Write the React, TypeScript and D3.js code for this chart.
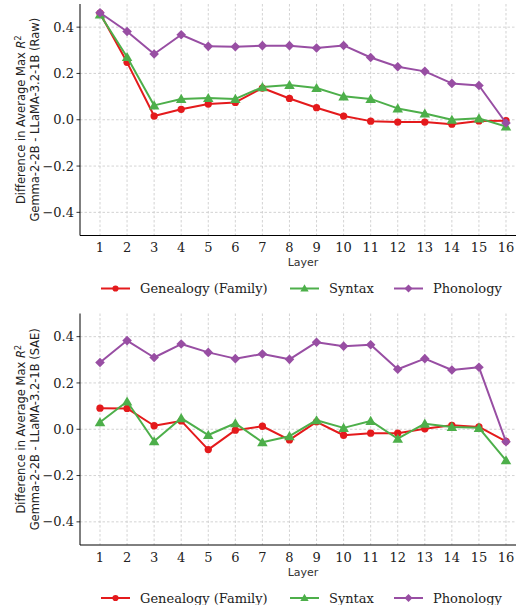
import React from "react";
import * as d3 from "d3";

const layers = [1, 2, 3, 4, 5, 6, 7, 8, 9, 10, 11, 12, 13, 14, 15, 16];
const yTicks = [0.4, 0.2, 0.0, -0.2, -0.4];

const rawGenealogy = [0.46, 0.248, 0.016, 0.045, 0.068, 0.075, 0.137, 0.092, 0.052, 0.016, -0.006, -0.01, -0.01, -0.019, -0.005, -0.004];
const rawSyntax = [0.455, 0.271, 0.062, 0.09, 0.094, 0.09, 0.141, 0.15, 0.137, 0.101, 0.09, 0.049, 0.027, 0.0, 0.006, -0.029];
const rawPhonology = [0.462, 0.381, 0.284, 0.367, 0.317, 0.315, 0.32, 0.32, 0.31, 0.321, 0.269, 0.229, 0.209, 0.157, 0.148, -0.014];

const saeGenealogy = [0.091, 0.09, 0.015, 0.036, -0.088, -0.004, 0.013, -0.046, 0.032, -0.026, -0.017, -0.017, 0.002, 0.017, 0.01, -0.052];
const saeSyntax = [0.03, 0.12, -0.052, 0.048, -0.025, 0.026, -0.056, -0.03, 0.039, 0.006, 0.036, -0.041, 0.024, 0.01, 0.006, -0.134];
const saePhonology = [0.288, 0.383, 0.31, 0.368, 0.332, 0.305, 0.325, 0.302, 0.376, 0.359, 0.365, 0.259, 0.305, 0.256, 0.268, -0.054];

const seriesNames = ["Genealogy (Family)", "Syntax", "Phonology"];
const seriesColors = ["#e41a1c", "#4daf4a", "#984ea3"];
const seriesSymbols = [d3.symbolCircle, d3.symbolTriangle, d3.symbolSquare];
const seriesRotate = [0, 0, 45];

const W = 516;
const H = 605;
const SERIF = "'DejaVu Serif', serif";
const SANS = "'DejaVu Sans', sans-serif";

const x = d3.scaleLinear().domain([0.261, 16.739]).range([80, 526]);

const fmt = (v: number) => (v < 0 ? "\u2212" : "") + Math.abs(v).toFixed(1);

function Panel({ top, bottom, data, tag }: { top: number; bottom: number; data: number[][]; tag: string }) {
  const y = d3.scaleLinear().domain([-0.5, 0.5]).range([bottom, top]);
  const cy = (top + bottom) / 2;
  const legendY = bottom + 53;
  const legendItems = [
    { x0: 101, tx: 140 },
    { x0: 290, tx: 329 },
    { x0: 394, tx: 433 },
  ];
  return (
    <g>
      {layers.map((l) => (
        <line key={"gx" + l} x1={x(l)} x2={x(l)} y1={top} y2={bottom} stroke="#c8c8c8" strokeWidth={0.8} strokeDasharray="2.5,2" />
      ))}
      {yTicks.map((t) => (
        <line key={"gy" + t} x1={80} x2={W} y1={y(t)} y2={y(t)} stroke="#c8c8c8" strokeWidth={0.8} strokeDasharray="2.5,2" />
      ))}
      <line x1={80} x2={80} y1={top} y2={bottom} stroke="#000" strokeWidth={1} />
      <line x1={80} x2={W} y1={bottom} y2={bottom} stroke="#000" strokeWidth={1} />
      {yTicks.map((t) => (
        <g key={"yt" + t}>
          <line x1={76.5} x2={80} y1={y(t)} y2={y(t)} stroke="#000" strokeWidth={0.8} />
          <text x={74} y={y(t) + 4.6} textAnchor="end" fontFamily={SERIF} fontSize={13} fill="#222">
            {fmt(t)}
          </text>
        </g>
      ))}
      {layers.map((l) => (
        <text key={"xt" + l} x={x(l)} y={bottom + 16.5} textAnchor="middle" fontFamily={SERIF} fontSize={13} fill="#222">
          {l}
        </text>
      ))}
      <text x={x(8.5)} y={bottom + 30.5} textAnchor="middle" fontFamily={SANS} fontSize={11} fill="#333">
        Layer
      </text>
      <text transform={`translate(25,${cy}) rotate(-90)`} textAnchor="middle" fontFamily={SANS} fontSize={11.5} fill="#222">
        Difference in Average Max <tspan fontStyle="italic">R</tspan>
        <tspan dy={-4} fontSize={8}>2</tspan>
      </text>
      <text transform={`translate(38.5,${cy}) rotate(-90)`} textAnchor="middle" fontFamily={SANS} fontSize={11.5} fill="#222">
        {`Gemma-2-2B - LLaMA-3.2-1B (${tag})`}
      </text>
      {data.map((vals, si) => {
        const pts: [number, number][] = layers.map((l, i) => [x(l), y(vals[i])]);
        const path = d3.line()(pts) || "";
        const sym = d3.symbol().type(seriesSymbols[si]).size(si === 2 ? 46 : si === 1 ? 48 : 42)() || "";
        return (
          <g key={"s" + si}>
            <path d={path} fill="none" stroke={seriesColors[si]} strokeWidth={2} strokeLinejoin="round" />
            {pts.map((p, i) => (
              <path key={i} d={sym} transform={`translate(${p[0]},${p[1] + (si === 1 ? 1 : 0)}) rotate(${seriesRotate[si]})`} fill={seriesColors[si]} />
            ))}
          </g>
        );
      })}
      {legendItems.map((it, si) => {
        const sym = d3.symbol().type(seriesSymbols[si]).size(si === 2 ? 32 : 30)() || "";
        return (
          <g key={"lg" + si}>
            <line x1={it.x0} x2={it.x0 + 29} y1={legendY} y2={legendY} stroke={seriesColors[si]} strokeWidth={2} />
            <path d={sym} transform={`translate(${it.x0 + 14.5},${legendY + (si === 1 ? 0.5 : 0)}) rotate(${seriesRotate[si]})`} fill={seriesColors[si]} />
            <text x={it.tx} y={legendY + 4.6} fontFamily={SERIF} fontSize={13} fill="#222">
              {seriesNames[si]}
            </text>
          </g>
        );
      })}
    </g>
  );
}

export default function App() {
  return (
    <svg width={W} height={H} style={{ position: "absolute", left: 0, top: 0, background: "#fff" }}>
      <rect width={W} height={H} fill="#fff" />
      <Panel top={4} bottom={235.5} data={[rawGenealogy, rawSyntax, rawPhonology]} tag="Raw" />
      <Panel top={313.5} bottom={545} data={[saeGenealogy, saeSyntax, saePhonology]} tag="SAE" />
    </svg>
  );
}
